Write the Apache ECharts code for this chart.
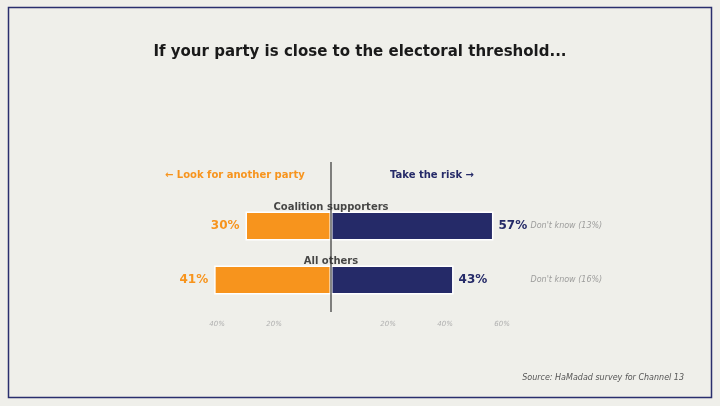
<!DOCTYPE html>
<html><head><meta charset="utf-8">
<script src="https://cdn.jsdelivr.net/npm/echarts@6/dist/echarts.min.js"></script>
<style>html,body{margin:0;padding:0;background:#fff}#c{width:720px;height:406px}</style>
</head><body><div id="c"></div>
<script>
// data
var groups = ['Coalition supporters', 'All others'];
var lookAnother = [30, 41];
var takeRisk = [57, 43];
var dontKnow = [13, 16];
var tickShown = [-40, -20, 20, 40, 60];

var orange = '#f7941d', navy = '#252a68';
var chart = echarts.init(document.getElementById('c'));
var font = 'DejaVu Sans';

var option = {
  backgroundColor: '#efefea',
  textStyle: { fontFamily: font },
  title: {
    text: 'If your party is close to the electoral threshold...',
    left: 'center', top: 40,
    textStyle: { fontSize: 15, fontWeight: 'bold', color: '#1a1a1a', fontFamily: font }
  },
  grid: { left: 188.5, right: 189.5, top: 199, bottom: 99 },
  xAxis: {
    type: 'value', min: -50, max: 70, interval: 10,
    splitLine: { show: false }, axisLine: { show: false }, axisTick: { show: false },
    axisLabel: {
      margin: 14, fontSize: 7, color: '#b0b0b0', fontStyle: 'italic',
      formatter: function (v) { return tickShown.indexOf(v) >= 0 ? Math.abs(v) + '%' : ''; }
    }
  },
  yAxis: {
    type: 'category', data: groups, inverse: true,
    axisLine: { show: false }, axisTick: { show: false }, axisLabel: { show: false }
  },
  series: [
    {
      type: 'bar', stack: 'a', barWidth: 29,
      data: lookAnother.map(function (v) { return -v; }),
      itemStyle: { color: orange, borderColor: '#fff', borderWidth: 1.5 },
      label: { show: true, position: 'left', distance: 6, color: orange, fontSize: 12, fontWeight: 'bold',
        formatter: function (p) { return Math.abs(p.value) + '%'; } }
    },
    {
      type: 'bar', stack: 'a', barWidth: 29,
      data: takeRisk,
      itemStyle: { color: navy, borderColor: '#fff', borderWidth: 1.5 },
      label: { show: true, position: 'right', distance: 5, color: navy, fontSize: 12, fontWeight: 'bold',
        formatter: '{c}%' }
    },
    {
      type: 'scatter', symbolSize: 0, silent: true,
      data: dontKnow.map(function (v, i) { return [70, i]; }),
      label: { show: true, position: 'right', distance: 0, color: '#888', fontSize: 8, fontStyle: 'italic',
        formatter: function (p) { return "Don't know (" + dontKnow[p.dataIndex] + '%)'; } }
    },
    {
      type: 'scatter', symbolSize: 0, silent: true, z: 5,
      data: groups.map(function (g, i) { return [0, i]; }),
      label: { show: true, position: 'top', distance: 14, color: '#1a1a1a', fontSize: 10, fontWeight: 'bold',
        formatter: function (p) { return groups[p.dataIndex]; } }
    }
  ],
  graphic: [
    { type: 'rect', shape: { x: 8.5, y: 7.5, width: 703, height: 390 }, style: { fill: 'none', stroke: '#2a2f6e', lineWidth: 1.5 } },
    { type: 'line', shape: { x1: 331, y1: 162, x2: 331, y2: 312 }, style: { stroke: '#333', lineWidth: 1.2 }, z: 10 },
    { type: 'text', left: 165, top: 170, style: { text: '\u2190 Look for another party', fill: orange, font: 'bold 10px ' + font } },
    { type: 'text', left: 390, top: 170, style: { text: 'Take the risk \u2192', fill: navy, font: 'bold 10px ' + font } },
    { type: 'text', right: 36, top: 374, style: { text: 'Source: HaMadad survey for Channel 13', fill: '#555', font: 'italic 8px ' + font } }
  ]
};
chart.setOption(option);
</script></body></html>
